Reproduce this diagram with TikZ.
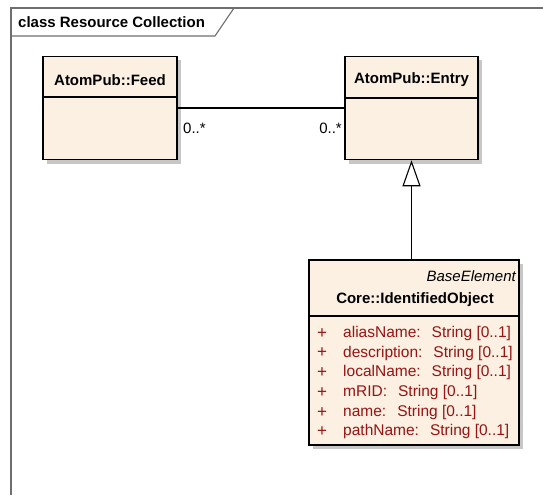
\documentclass[tikz,border=0pt]{standalone}
\usepackage{fontspec}
\setmainfont{Liberation Sans}
\usetikzlibrary{arrows.meta,shadows}
\definecolor{classfill}{RGB}{251,240,225}
\definecolor{attrred}{RGB}{150,20,20}
\definecolor{framegray}{RGB}{110,110,110}
\tikzset{
  classbox/.style={draw=black, line width=1.5pt, fill=classfill, rectangle,
    drop shadow={shadow xshift=4pt, shadow yshift=-4pt, opacity=1, fill=black!22}},
  umltext/.style={font=\fontsize{15}{18}\selectfont, inner sep=0pt},
  attrtext/.style={umltext, font=\fontsize{15.5}{18}\selectfont, text=attrred, anchor=west},
}
\begin{document}
\begin{tikzpicture}[x=1pt, y=-1pt]
		\useasboundingbox (0,0) rectangle (543,495);
		% フレーム
		\draw [framegray, line width=1.3pt] (11,495) -- (11,8) -- (543,8);
		\draw [framegray, line width=1.1pt] (11,36) -- (215,36) -- (234,8);
		\node [umltext, anchor=west, font=\fontsize{15}{18}\selectfont\bfseries] (frametitle) at (18,22) {class Resource Collection};
		% クラス
		\node [classbox, minimum width=134pt, minimum height=103pt] (feed) at (110,108) {};
		\node [classbox, minimum width=133pt, minimum height=103pt] (entry) at (411.5,108) {};
		\node [classbox, minimum width=210pt, minimum height=185pt] (obj) at (414,352.5) {};
		\draw [line width=1.5pt] (feed.west |- 0,97) -- (feed.east |- 0,97);
		\draw [line width=1.5pt] (entry.west |- 0,98) -- (entry.east |- 0,98);
		\draw [line width=1.5pt] (obj.west |- 0,316) -- (obj.east |- 0,316);
		\node [umltext, font=\fontsize{15}{18}\selectfont\bfseries] (feedname) at (110,80) {AtomPub::Feed};
		\node [umltext, font=\fontsize{15}{18}\selectfont\bfseries] (entryname) at (411.5,80) {AtomPub::Entry};
		\node [umltext, anchor=east, font=\fontsize{15}{18}\selectfont\itshape] (stereo) at (516,276) {BaseElement};
		\node [umltext, font=\fontsize{15}{18}\selectfont\bfseries] (objname) at (415,300) {Core::IdentifiedObject};
		% 属性
		\foreach \attr [count=\i from 0] in {aliasName, description, localName, mRID, name, pathName}
		{
			\node [attrtext, anchor=center, font=\fontsize{17}{18}\selectfont] (plus\i) at (322,333.3+19.7*\i) {+};
			\node [attrtext] (attr\i) at (343,333.3+19.7*\i) {\attr:\hspace{11pt}String [0..1]};
		}
		% 関連・汎化
		\draw [line width=1.1pt] (feed.east) -- (entry.west);
		\node [umltext, anchor=west] (feedmult) at (183,128) {0..*};
		\node [umltext, anchor=east] (entrymult) at (342,128) {0..*};
		\draw [-{Triangle[open, length=26pt, width=18pt, fill=white]}, line width=1.1pt] (entry.south |- obj.north)
		to (entry.south)
		;
	\end{tikzpicture}
\end{document}
